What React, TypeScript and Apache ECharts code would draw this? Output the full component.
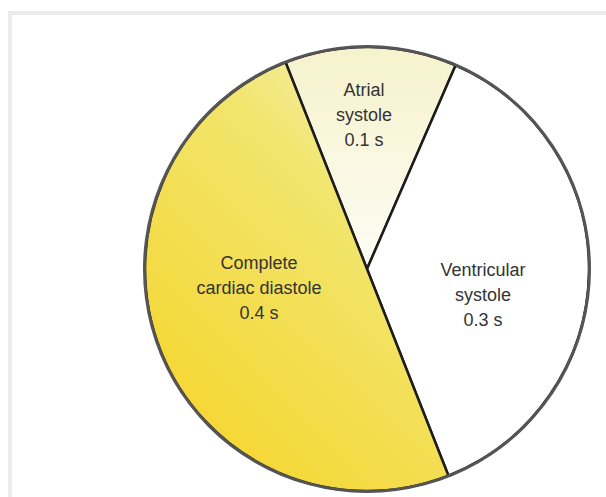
import React, { useEffect, useRef } from "react";
import * as echarts from "echarts";

const phases = ["Atrial\nsystole", "Ventricular\nsystole", "Complete\ncardiac diastole"];
const durations = [0.1, 0.3, 0.4];
const unit = "s";

export default function App() {
  const ref = useRef<HTMLDivElement>(null);
  useEffect(() => {
    if (!ref.current) return;
    const chart = echarts.init(ref.current, undefined, { renderer: "svg" });
    const fills: any[] = [
      new echarts.graphic.LinearGradient(0, 0, 0, 1, [
        { offset: 0, color: "#f6f2cc" },
        { offset: 1, color: "#fdfdf4" },
      ]),
      "#ffffff",
      new echarts.graphic.LinearGradient(0.9, 0, 0.2, 1, [
        { offset: 0, color: "#f5f0c0" },
        { offset: 0.35, color: "#f1e56c" },
        { offset: 1, color: "#f6d52c" },
      ]),
    ];
    const shifts = [
      [-5, -40],
      [2, 24],
      [-2, -23],
    ];
    chart.setOption({
      animation: false,
      backgroundColor: "#ffffff",
      graphic: [
        { type: "rect", shape: { x: 8, y: 11, width: 598, height: 4 }, style: { fill: "#ececec" }, silent: true },
        { type: "rect", shape: { x: 8, y: 11, width: 4, height: 486 }, style: { fill: "#ececec" }, silent: true },
      ],
      series: [
        {
          type: "pie",
          center: [367, 269],
          radius: [0, 222],
          startAngle: 111.5,
          clockwise: true,
          silent: true,
          data: phases.map((p, i) => ({
            name: p,
            value: durations[i],
            itemStyle: { color: fills[i] },
          })),
          itemStyle: { borderColor: "#1c1c1c", borderWidth: 2.5 },
          label: {
            show: true,
            position: "inside",
            formatter: (pp: any) => `${pp.name}\n${pp.value} ${unit}`,
            color: "#333333",
            fontFamily: "Liberation Sans, Arial, sans-serif",
            fontSize: 18,
            lineHeight: 25,
            align: "center",
          },
          labelLayout: (params: any) => ({
            dx: shifts[params.dataIndex][0],
            dy: shifts[params.dataIndex][1],
          }),
          labelLine: { show: false },
        },
        {
          type: "pie",
          center: [367, 269],
          radius: [221, 224],
          silent: true,
          label: { show: false },
          labelLine: { show: false },
          data: [{ value: 1, itemStyle: { color: "#555555" } }],
        },
      ],
    });
    return () => chart.dispose();
  }, []);
  return (
    <div
      ref={ref}
      style={{ position: "absolute", left: 0, top: 0, width: 606, height: 497 }}
    />
  );
}
